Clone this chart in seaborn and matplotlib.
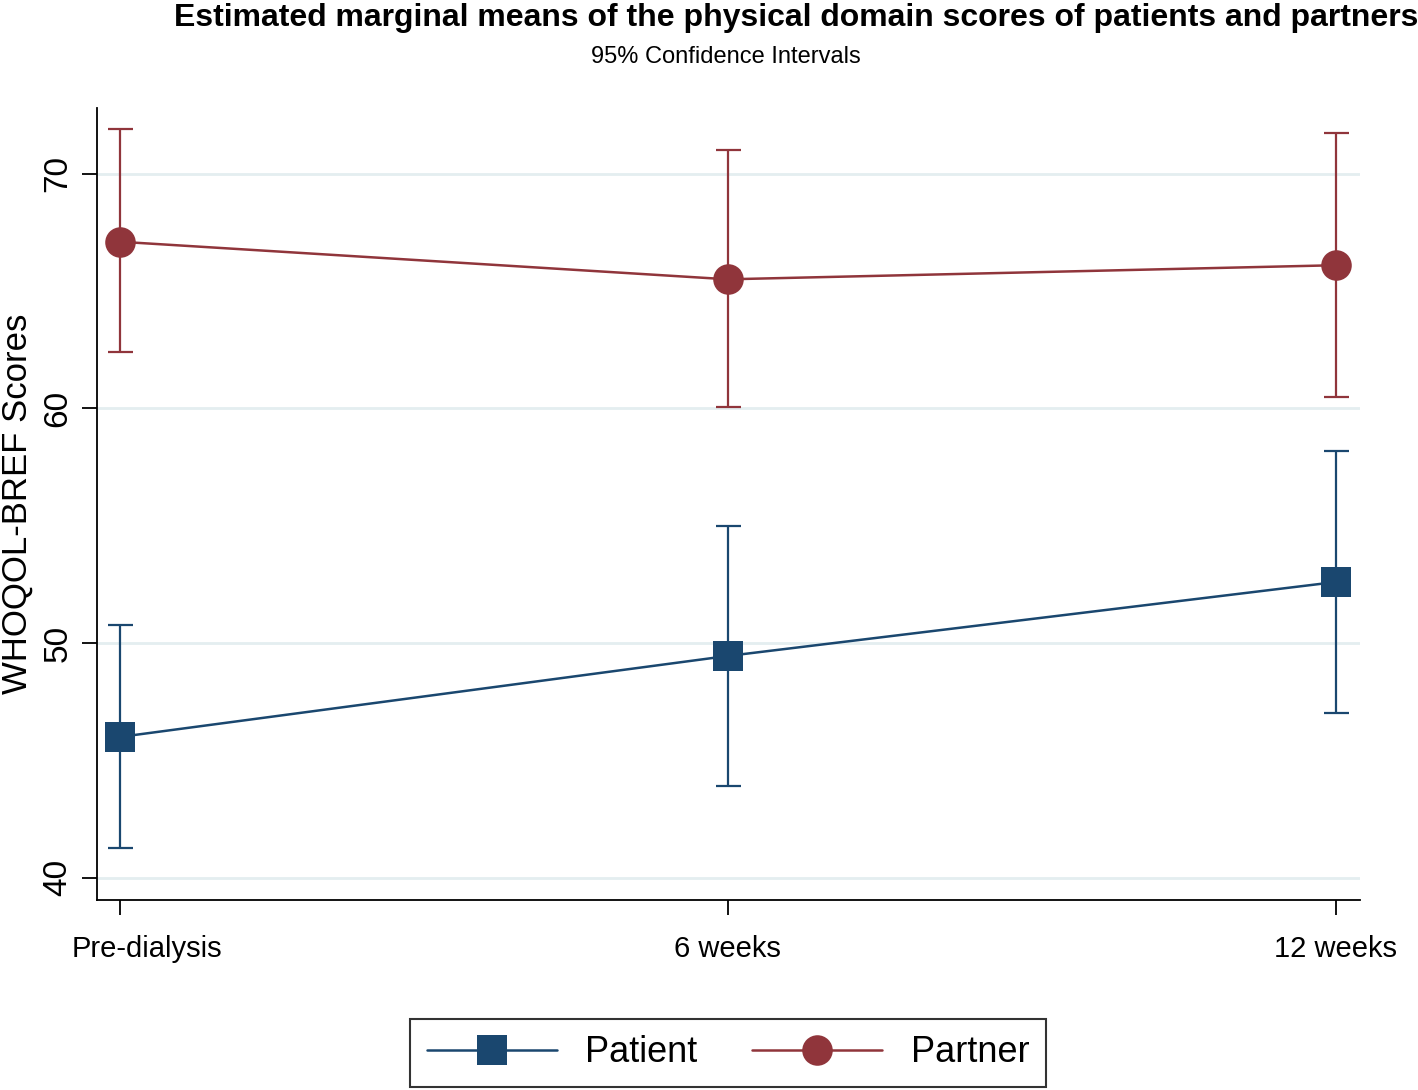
import numpy as np
import pandas as pd
import matplotlib
matplotlib.use("Agg")
import matplotlib.pyplot as plt
import matplotlib.transforms as mtransforms
import seaborn as sns
from matplotlib.lines import Line2D

# data
times = ["Pre-dialysis", "6 weeks", "12 weeks"]
patient_mean = [46.0, 49.45, 52.6]
patient_lo = [41.25, 43.9, 47.0]
patient_hi = [50.75, 55.0, 58.2]
partner_mean = [67.1, 65.5, 66.1]
partner_lo = [62.4, 60.05, 60.5]
partner_hi = [71.9, 71.0, 71.75]

navy = "#1A476F"
maroon = "#90353B"

sns.set_style("white", {"xtick.bottom": True, "ytick.left": True,
                        "text.color": "black", "axes.labelcolor": "black",
                        "xtick.color": "black", "ytick.color": "black"})
plt.rcParams["font.family"] = ["Liberation Sans Narrow", "Liberation Sans", "DejaVu Sans"]

df = pd.DataFrame({
    "pos": list(range(3)) * 2,
    "score": patient_mean + partner_mean,
    "group": ["Patient"] * 3 + ["Partner"] * 3,
})

fig = plt.figure(figsize=(14.18, 10.9), dpi=100)
ax = fig.add_axes([97 / 1418, 1 - 900 / 1090, (1360 - 97) / 1418, (900 - 108) / 1090])

for y in [40, 50, 60, 70]:
    ax.axhline(y, color="#e4eef0", lw=2, zorder=0)

# confidence intervals
for mean, lo, hi, col in [(patient_mean, patient_lo, patient_hi, navy),
                          (partner_mean, partner_lo, partner_hi, maroon)]:
    m = np.array(mean)
    ax.errorbar(range(3), m, yerr=[m - np.array(lo), np.array(hi) - m],
                fmt="none", ecolor=col, elinewidth=1.6, capsize=9, capthick=1.6, zorder=2)

sns.lineplot(data=df, x="pos", y="score", hue="group", style="group",
             palette={"Patient": navy, "Partner": maroon},
             markers={"Patient": "s", "Partner": "o"}, dashes=False,
             markersize=22, markeredgewidth=0, linewidth=1.8, ax=ax,
             legend=False, zorder=3)

ax.set_xlim(-0.038, 2.04)
ax.set_ylim(39.05, 72.8)
ax.set_xticks(range(3))
ax.set_xticklabels(times, fontsize=21)
ax.set_yticks([40, 50, 60, 70])
ax.set_yticklabels(["40", "50", "60", "70"], fontsize=24, rotation=90, va="center")
ax.set_xlabel("")
ax.set_ylabel("WHOQOL-BREF Scores", fontsize=25, labelpad=6)
ax.tick_params(axis="both", direction="out", length=11, width=1.3, colors="black")
ax.tick_params(axis="x", pad=14)
ax.tick_params(axis="y", pad=6)
# the first category label sits a little right of its tick in the reference
lab0 = ax.get_xticklabels()[0]
lab0.set_transform(lab0.get_transform() + mtransforms.ScaledTranslation(0.27, 0, fig.dpi_scale_trans))
for s in ["top", "right"]:
    ax.spines[s].set_visible(False)
for s in ["left", "bottom"]:
    ax.spines[s].set_color("black")
    ax.spines[s].set_linewidth(1.3)

fig.text(796 / 1418, 1 - 18 / 1090, "Estimated marginal means of the physical domain scores of patients and partners",
         ha="center", va="center", fontsize=23, fontweight="bold")
fig.text(726 / 1418, 1 - 57 / 1090, "95% Confidence Intervals", ha="center", va="center", fontsize=17)

handles = [
    Line2D([], [], color=navy, marker="s", markersize=22, markeredgewidth=0, lw=1.8),
    Line2D([], [], color=maroon, marker="o", markersize=22, markeredgewidth=0, lw=1.8),
]
leg = fig.legend(handles, ["Patient", "Partner"], loc="center", ncol=2,
                 bbox_to_anchor=(728 / 1418, 1 - 1053 / 1090), fontsize=26,
                 frameon=True, fancybox=False, edgecolor="black", handlelength=3.6,
                 columnspacing=1.5, handletextpad=0.8, borderpad=0.45, borderaxespad=0)
leg.get_frame().set_linewidth(1.5)

fig.savefig("out.png", dpi=100)
